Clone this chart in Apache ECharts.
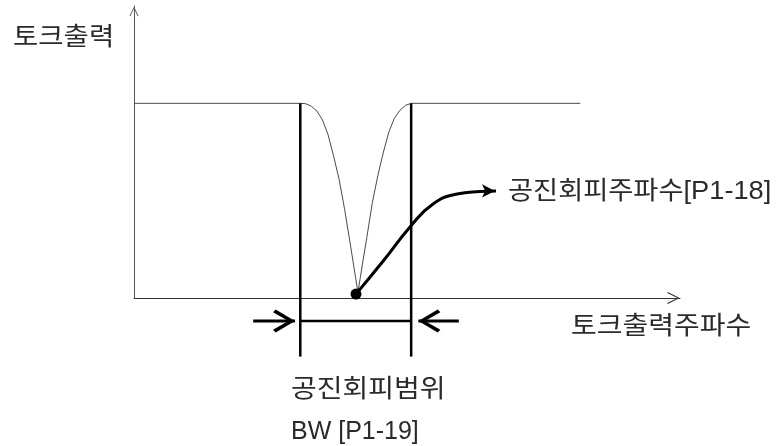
<!DOCTYPE html>
<html>
<head>
<meta charset="utf-8">
<script src="https://cdn.jsdelivr.net/npm/echarts@6/dist/echarts.min.js"></script>
<style>
  html, body { margin: 0; padding: 0; background: #ffffff; }
  #chart { width: 781px; height: 446px; }
</style>
</head>
<body>
<div id="chart"></div>
<script>
// Torque output versus frequency, with the resonance-avoidance notch
const freq   = [0, 30, 31, 32, 33, 34, 35, 36, 37, 38, 39, 39.5, 40, 40.4, 40.8, 41.3, 42, 43, 44, 45, 46, 47, 48, 49, 50, 80.5];
const torque = [1.0, 1.0, 0.998, 0.985, 0.96, 0.915, 0.84, 0.73, 0.61, 0.455, 0.28, 0.19, 0.10, 0.03, 0.10, 0.19, 0.31, 0.49, 0.63, 0.75, 0.855, 0.925, 0.965, 0.99, 1.0, 1.0];

// Avoidance band (BW) edges and the dimension line beneath the axis
const bandEdges  = [30, 50];
const bandTop    = 1.0;
const bandBottom = -0.301;
const dimLevel   = -0.118;
const leftArrowX  = [21.5, 29.05];   // tail, tip (points right)
const rightArrowX = [58.6, 51.3];    // tail, tip (points left)

// Callout from the notch centre out to its label
const calloutX = [40.05, 45.1, 49.8, 53.95, 58.3, 62.4, 65.3];
const calloutY = [0.02, 0.195, 0.365, 0.483, 0.534, 0.547, 0.55];

// Texts
const yAxisName   = '토크출력';
const xAxisName   = '토크출력주파수';
const centerLabel = '공진회피주파수[P1-18]';
const bandLabel   = ['공진회피범위', 'BW [P1-19]'];

const FONT = '"Liberation Sans", "Noto Sans CJK KR", sans-serif';
const INK = '#2a2a2a';

// Open chevron heads (pointing up before rotation)
const thickChevron = 'path://M50 0 L100 88 L88 100 L50 30 L12 100 L0 88 Z';
const thinChevron  = 'path://M6 0 L12 12 L10.9 12.6 L6 2.4 L1.1 12.6 L0 12 Z';

const chart = echarts.init(document.getElementById('chart'), null, { renderer: 'canvas' });

function plain(name, data, color, width, extra) {
  return Object.assign({
    name: name,
    type: 'line',
    data: data,
    symbol: 'none',
    showSymbol: true,
    clip: false,
    silent: true,
    animation: false,
    lineStyle: { color: color, width: width, cap: 'butt' },
    itemStyle: { color: color },
    emphasis: { disabled: true }
  }, extra || {});
}

const series = [];

series.push(plain('torque', freq.map((x, i) => [x, torque[i]]), '#4a4a4a', 1));

bandEdges.forEach((x, i) => {
  series.push(plain('edge' + i, [[x, bandTop], [x, bandBottom]], '#000', 2.5));
});

series.push(plain('bw', [[bandEdges[0], dimLevel], [bandEdges[1], dimLevel]], '#000', 2.5));

series.push(plain('bwLeft', [
  [leftArrowX[0], dimLevel],
  { value: [leftArrowX[1], dimLevel], symbol: thickChevron, symbolSize: [23, 22], symbolRotate: -90, symbolOffset: [-11, 0], symbolKeepAspect: false }
], '#000', 3));

series.push(plain('bwRight', [
  [rightArrowX[0], dimLevel],
  { value: [rightArrowX[1], dimLevel], symbol: thickChevron, symbolSize: [23, 22], symbolRotate: 90, symbolOffset: [11, 0], symbolKeepAspect: false }
], '#000', 3));

series.push(plain('callout', calloutX.map((x, i) => {
  if (i === 0) return { value: [x, calloutY[i]], symbol: 'circle', symbolSize: 11 };
  if (i === calloutX.length - 1) return { value: [x, calloutY[i]], symbol: 'arrow', symbolSize: [10, 13], symbolRotate: -90, symbolOffset: [-1, 0] };
  return { value: [x, calloutY[i]] };
}), '#000', 3, { smooth: 0.5 }));

// The Hangul face is drawn a little wider to match the label widths
const label = (text, x, y, sx) => ({
  type: 'text',
  x: x, y: y,
  scaleX: sx,
  silent: true,
  style: { text: text, font: '25px ' + FONT, fill: INK, verticalAlign: 'middle', align: 'left' }
});

chart.setOption({
  backgroundColor: '#ffffff',
  animation: false,
  grid: { left: 134, right: 101, top: 6, bottom: 148, containLabel: false },
  xAxis: {
    type: 'value', min: 0, max: 98.5,
    axisLine: { show: true, onZero: false, lineStyle: { color: '#333', width: 1 },
      symbol: ['none', thinChevron], symbolSize: [12, 13], symbolOffset: [0, -6.5] },
    axisTick: { show: false }, axisLabel: { show: false }, splitLine: { show: false }
  },
  yAxis: {
    type: 'value', min: 0, max: 1.5,
    axisLine: { show: true, onZero: false, lineStyle: { color: '#555', width: 1 },
      symbol: ['none', thinChevron], symbolSize: [9, 11], symbolOffset: [0, -5.5] },
    axisTick: { show: false }, axisLabel: { show: false }, splitLine: { show: false }
  },
  series: series,
  graphic: [
    label(yAxisName, 13, 38, 1.1),
    label(xAxisName, 571, 327, 1.12),
    label(centerLabel, 508, 192, 1.09),
    label(bandLabel[0], 291, 390, 1.12),
    label(bandLabel[1], 291, 432, 1.0)
  ]
});
</script>
</body>
</html>
